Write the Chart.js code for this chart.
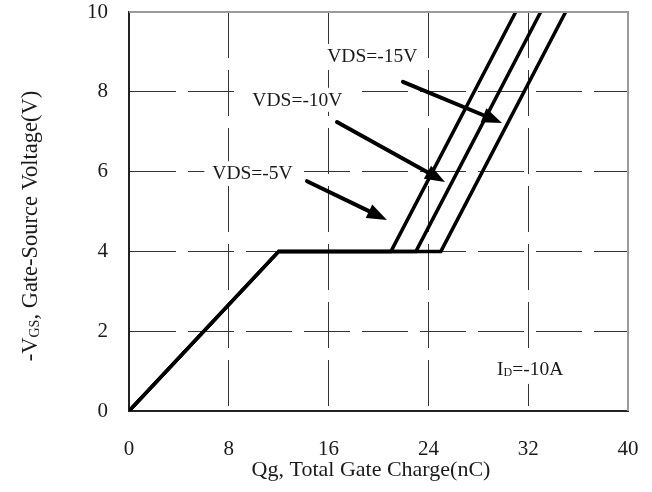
<!DOCTYPE html>
<html>
<head>
<meta charset="utf-8">
<script src="https://cdn.jsdelivr.net/npm/chart.js@4.4.1/dist/chart.umd.min.js"></script>
<style>
  html, body { margin: 0; padding: 0; background: #fff; overflow: hidden; }
  #wrap { width: 652px; height: 492px; position: relative; }
</style>
</head>
<body>
<div id="wrap"><canvas id="gateChart"></canvas></div>
<script>
// ─── Data ───────────────────────────────────────────────────────────────────
// gate charge (nC) and -VGS (V) for each VDS curve
const qg5   = [0, 12, 21, 31];
const vgs5  = [0, 4, 4, 10];
const qg10  = [0, 12, 23, 33];
const vgs10 = [0, 4, 4, 10];
const qg15  = [0, 12, 25, 35];
const vgs15 = [0, 4, 4, 10];

const xTicks = [0, 8, 16, 24, 32, 40];
const yTicks = [0, 2, 4, 6, 8, 10];

// callouts: label anchor and arrow (tail -> tip), in data units
const calloutText  = ['VDS=-15V', 'VDS=-10V', 'VDS=-5V'];
const calloutQg    = [19.5, 13.5, 9.9];
const calloutV     = [8.9, 7.8, 5.96];
const arrowTailQg  = [21.96, 16.67, 14.27];
const arrowTailV   = [8.25, 7.24, 5.76];
const arrowTipQg   = [29.9, 25.33, 20.68];
const arrowTipV    = [7.22, 5.74, 4.79];

const SERIF = '"Liberation Serif", "DejaVu Serif", serif';
const INK = '#1a1a1a';

function pts(xs, ys) {
  return xs.map(function(x, i) { return { x: x, y: ys[i] }; });
}

function curve(label, xs, ys) {
  return {
    label: label,
    data: pts(xs, ys),
    borderColor: '#000',
    borderWidth: 3.5,
    pointRadius: 0,
    tension: 0,
    fill: false
  };
}

// no extra room for edge tick labels, the plot box is fixed
function fixBox(size, isX) {
  return function(s) {
    if (isX) s.height = size; else s.width = size;
    s.paddingTop = 0; s.paddingBottom = 0;
    s.paddingLeft = 0; s.paddingRight = 0;
  };
}

// ─── Plugin: frame, callouts, axis titles ───────────────────────────────────
const decorPlugin = {
  id: 'decor',
  afterDraw: function(chart) {
    const ctx = chart.ctx;
    const xs = chart.scales.x, ys = chart.scales.y;
    const a = chart.chartArea;

    // top / right frame (grey)
    ctx.save();
    ctx.strokeStyle = '#9a9a9a';
    ctx.lineWidth = 2;
    ctx.beginPath();
    ctx.moveTo(a.left, a.top);
    ctx.lineTo(a.right, a.top);
    ctx.lineTo(a.right, a.bottom);
    ctx.stroke();
    ctx.restore();

    // callout labels with white backing
    ctx.save();
    ctx.font = '19.5px ' + SERIF;
    ctx.textAlign = 'center';
    ctx.textBaseline = 'middle';
    calloutText.forEach(function(t, i) {
      const px = xs.getPixelForValue(calloutQg[i]);
      const py = ys.getPixelForValue(calloutV[i]);
      const w = ctx.measureText(t).width;
      ctx.fillStyle = '#fff';
      ctx.fillRect(px - w / 2 - 8, py - 12, w + 16, 24);
      ctx.fillStyle = INK;
      ctx.fillText(t, px, py + 1);
    });
    ctx.restore();

    // arrows
    ctx.save();
    ctx.strokeStyle = '#000';
    ctx.fillStyle = '#000';
    ctx.lineWidth = 4;
    ctx.lineCap = 'round';
    for (let i = 0; i < arrowTailQg.length; i++) {
      const x0 = xs.getPixelForValue(arrowTailQg[i]);
      const y0 = ys.getPixelForValue(arrowTailV[i]);
      const x1 = xs.getPixelForValue(arrowTipQg[i]);
      const y1 = ys.getPixelForValue(arrowTipV[i]);
      const ang = Math.atan2(y1 - y0, x1 - x0);
      const len = 20, half = 7.5;
      const bx = x1 - len * Math.cos(ang), by = y1 - len * Math.sin(ang);
      ctx.beginPath();
      ctx.moveTo(x0, y0);
      ctx.lineTo(bx, by);
      ctx.stroke();
      ctx.beginPath();
      ctx.moveTo(x1, y1);
      ctx.lineTo(bx + half * Math.sin(ang), by - half * Math.cos(ang));
      ctx.lineTo(bx - half * Math.sin(ang), by + half * Math.cos(ang));
      ctx.closePath();
      ctx.fill();
    }
    ctx.restore();

    // ID=-10A, white backing like the callouts
    ctx.save();
    ctx.textBaseline = 'middle';
    let ix = xs.getPixelForValue(29.5);
    const iy = ys.getPixelForValue(1.03);
    ctx.fillStyle = '#fff';
    ctx.fillRect(ix - 6, iy - 12, 80, 26);
    ctx.fillStyle = INK;
    ctx.font = '19.5px ' + SERIF;
    ctx.fillText('I', ix, iy);
    ix += ctx.measureText('I').width;
    ctx.font = '12px ' + SERIF;
    ctx.fillText('D', ix, iy + 3);
    ix += ctx.measureText('D').width;
    ctx.font = '19.5px ' + SERIF;
    ctx.fillText('=-10A', ix, iy);
    ctx.restore();

    // x axis title
    ctx.save();
    ctx.fillStyle = INK;
    ctx.font = '22px ' + SERIF;
    ctx.textAlign = 'center';
    ctx.textBaseline = 'middle';
    ctx.fillText('Qg, Total Gate Charge(nC)', 371, 470);
    ctx.restore();

    // y axis title (rotated, with subscript GS)
    ctx.save();
    ctx.translate(31, 226);
    ctx.rotate(-Math.PI / 2);
    ctx.fillStyle = INK;
    ctx.textBaseline = 'middle';
    const parts = [
      { t: '-V', f: '22.5px ', dy: 0 },
      { t: 'GS', f: '14px ', dy: 4 },
      { t: ', Gate-Source Voltage(V)', f: '22.5px ', dy: 0 }
    ];
    let total = 0;
    parts.forEach(function(p) { ctx.font = p.f + SERIF; p.w = ctx.measureText(p.t).width; total += p.w; });
    let cx = -total / 2;
    parts.forEach(function(p) {
      ctx.font = p.f + SERIF;
      ctx.fillText(p.t, cx, p.dy);
      cx += p.w;
    });
    ctx.restore();
  }
};

function gridColor(max) {
  return function(c) {
    if (!c.tick) return '#333';
    return (c.tick.value === 0 || c.tick.value === max) ? 'rgba(0,0,0,0)' : '#333';
  };
}

new Chart(document.getElementById('gateChart').getContext('2d'), {
  type: 'line',
  plugins: [decorPlugin],
  data: {
    datasets: [
      curve('VDS=-5V', qg5, vgs5),
      curve('VDS=-10V', qg10, vgs10),
      curve('VDS=-15V', qg15, vgs15)
    ]
  },
  options: {
    responsive: true,
    maintainAspectRatio: false,
    animation: false,
    devicePixelRatio: 1,
    layout: { autoPadding: false, padding: { top: 12, right: 24, left: 0, bottom: 0 } },
    plugins: {
      legend: { display: false },
      tooltip: { enabled: false }
    },
    scales: {
      x: {
        type: 'linear',
        min: 0,
        max: 40,
        afterBuildTicks: function(s) { s.ticks = xTicks.map(function(v) { return { value: v }; }); },
        afterFit: fixBox(81, true),
        ticks: {
          font: { size: 21, family: SERIF },
          color: INK,
          padding: 26,
          maxRotation: 0
        },
        grid: { color: gridColor(40), lineWidth: 1, drawTicks: false },
        border: { color: '#222', width: 2, dash: [46, 12] }
      },
      y: {
        min: 0,
        max: 10,
        afterBuildTicks: function(s) { s.ticks = yTicks.map(function(v) { return { value: v }; }); },
        afterFit: fixBox(129, false),
        ticks: {
          font: { size: 21, family: SERIF },
          color: INK,
          padding: 21
        },
        grid: { color: gridColor(10), lineWidth: 1, drawTicks: false },
        border: { color: '#222', width: 2, dash: [46, 12] }
      }
    }
  }
});
</script>
</body>
</html>
